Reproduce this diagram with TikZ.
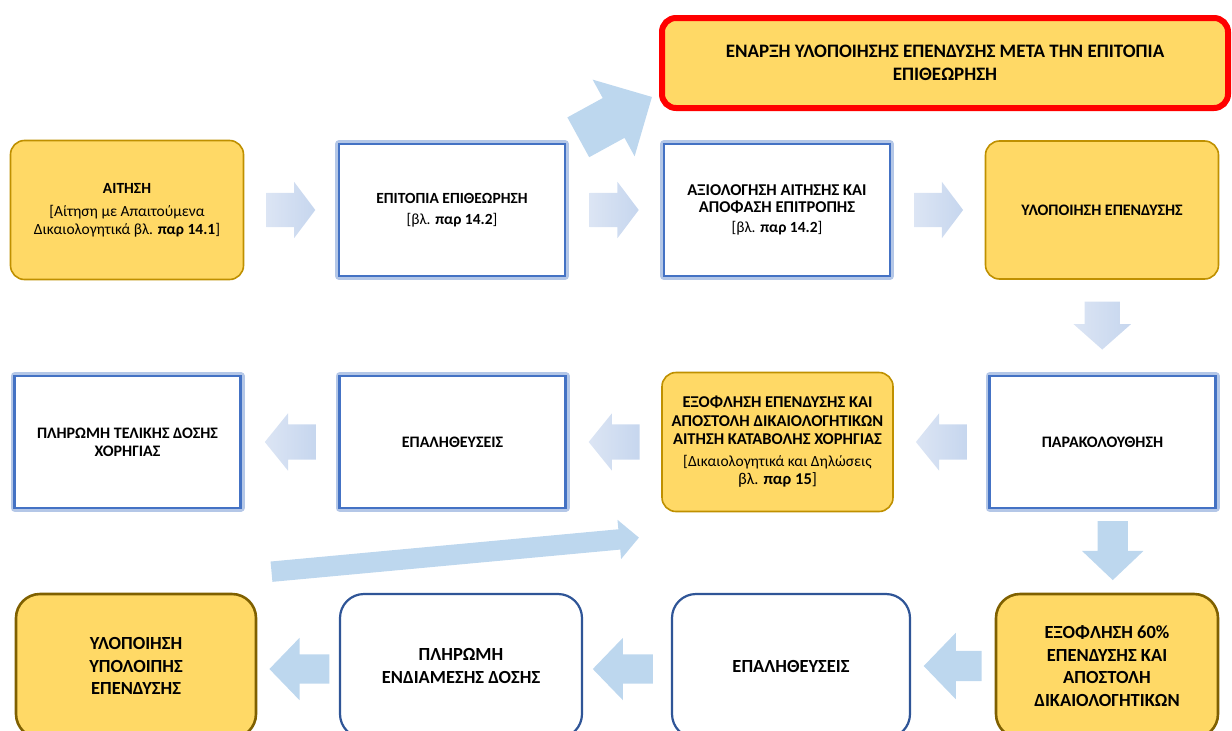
\documentclass[tikz,border=0pt]{standalone}
\usepackage{fontspec}
\setmainfont{Carlito}
\usepackage{tikz}
\usetikzlibrary{shapes.arrows, calc}
\definecolor{gold}{HTML}{FFD966}
\definecolor{goldline}{HTML}{BF9000}
\definecolor{oliveline}{HTML}{7F6000}
\definecolor{boxblue}{HTML}{4472C4}
\definecolor{glowblue}{HTML}{B4C7E7}
\definecolor{darkblue}{HTML}{2F5597}
\definecolor{skyblue}{HTML}{BDD7EE}
\definecolor{paleA}{HTML}{DCE5F4}
\definecolor{paleB}{HTML}{C6D6EE}

\begin{document}
\begin{tikzpicture}[x=1pt, y=-1pt,
                node distance = 325pt,
                Y/.style = {rectangle, rounded corners=14pt, draw=goldline, line width=1.6pt, fill=gold, align=center, font=\fontsize{15.5}{18}\selectfont},
                Y2/.style = {Y, rounded corners=24pt, draw=oliveline, line width=2.6pt, minimum width=240pt, minimum height=144pt, font=\fontsize{18.5}{22.5}\selectfont\bfseries},
                B/.style = {rectangle, draw=boxblue, line width=2.2pt, fill=white, align=center, minimum width=226pt, minimum height=132pt, preaction={draw=glowblue, line width=8pt, line join=round}, font=\fontsize{16}{18}\selectfont\bfseries},
                W/.style = {rectangle, rounded corners=24pt, draw=darkblue, line width=2.2pt, fill=white, align=center, minimum height=144pt, font=\fontsize{18.5}{22.5}\selectfont\bfseries},
                A/.style = {single arrow, anchor=tail, draw=none, inner xsep=0pt, inner ysep=17pt, single arrow head extend=11pt, single arrow tip angle=106, minimum height=49pt, minimum width=56pt, left color=paleA, right color=paleB},
                S/.style = {single arrow, anchor=tail, draw=none, inner xsep=0pt, inner ysep=15pt, fill=skyblue, single arrow head extend=17pt, single arrow tip angle=92, minimum height=59pt, minimum width=63pt}
                    ]
                \clip (0,0) rectangle (1232,731);
                % first row
                \node[Y, minimum width=233pt, minimum height=139pt] (1) at (127,210) {\textbf{ΑΙΤΗΣΗ}\\[5pt] {[}Αίτηση με Απαιτούμενα\\ Δικαιολογητικά βλ. \textbf{παρ 14.1}{]}};
                \node[B, font=\fontsize{15.5}{18}\selectfont\bfseries] (2) [right of=1] {ΕΠΙΤΟΠΙΑ ΕΠΙΘΕΩΡΗΣΗ\\[3pt] \mdseries{[}βλ. \textbf{παρ 14.2}{]}};
                \node[B, font=\fontsize{16.5}{17}\selectfont\bfseries] (3) [right of=2] {ΑΞΙΟΛΟΓΗΣΗ ΑΙΤΗΣΗΣ ΚΑΙ\\ ΑΠΟΦΑΣΗ ΕΠΙΤΡΟΠΗΣ\\[3pt] \mdseries\fontsize{15.5}{17}\selectfont{[}βλ. \textbf{παρ 14.2}{]}};
                \node[Y, minimum width=233pt, minimum height=138pt, font=\fontsize{16}{18}\selectfont\bfseries] (4) [right of=3] {ΥΛΟΠΟΙΗΣΗ ΕΠΕΝΔΥΣΗΣ};
                \node[Y, draw=red, line width=6pt, minimum width=566pt, minimum height=90pt, font=\fontsize{19}{23}\selectfont\bfseries] (0) at (945,63) {ΕΝΑΡΞΗ ΥΛΟΠΟΙΗΣΗΣ ΕΠΕΝΔΥΣΗΣ ΜΕΤΑ ΤΗΝ ΕΠΙΤΟΠΙΑ\\ ΕΠΙΘΕΩΡΗΣΗ};
                % second row
                \node[B] (5) at (1102.5,442) {ΠΑΡΑΚΟΛΟΥΘΗΣΗ};
                \node[Y, minimum width=231pt, minimum height=139pt, font=\fontsize{16.5}{18.5}\selectfont] (10) [left of=5] {\textbf{ΕΞΟΦΛΗΣΗ ΕΠΕΝΔΥΣΗΣ ΚΑΙ}\\ \textbf{ΑΠΟΣΤΟΛΗ ΔΙΚΑΙΟΛΟΓΗΤΙΚΩΝ}\\ \textbf{ΑΙΤΗΣΗ ΚΑΤΑΒΟΛΗΣ ΧΟΡΗΓΙΑΣ}\\[3pt] \fontsize{15.5}{18.5}\selectfont{[}Δικαιολογητικά και Δηλώσεις\\ βλ. \textbf{παρ 15}{]}};
                \node[B] (11) [left of=10] {ΕΠΑΛΗΘΕΥΣΕΙΣ};
                \node[B] (12) [left of=11] {ΠΛΗΡΩΜΗ ΤΕΛΙΚΗΣ ΔΟΣΗΣ\\ ΧΟΡΗΓΙΑΣ};
                % third row
                \node[Y2, minimum width=222pt] (6) at (1107,666) {ΕΞΟΦΛΗΣΗ 60\%\\ ΕΠΕΝΔΥΣΗΣ ΚΑΙ\\ ΑΠΟΣΤΟΛΗ\\ ΔΙΚΑΙΟΛΟΓΗΤΙΚΩΝ};
                \node[W, minimum width=238pt] (7) [left of=6, xshift=9pt] {ΕΠΑΛΗΘΕΥΣΕΙΣ};
                \node[W, minimum width=242pt] (8) [left of=7, xshift=-5pt] {ΠΛΗΡΩΜΗ\\ ΕΝΔΙΑΜΕΣΗΣ ΔΟΣΗΣ};
                \node[Y2] (9) [left of=8] {ΥΛΟΠΟΙΗΣΗ\\ ΥΠΟΛΟΙΠΗΣ\\ ΕΠΕΝΔΥΣΗΣ};
                % arrows (placed by their tails)
                \node[A] (a1) at ($(1.east)!.5!(2.west)-(25,0)$) {};
                \node[A] (a2) at ($(2.east)!.5!(3.west)-(25,0)$) {};
                \node[A] (a3) at ($(3.east)!.5!(4.west)-(24,0)$) {};
                \node[A, rotate=-90, inner ysep=17.5pt, single arrow tip angle=97, minimum height=48pt, minimum width=57pt] (a4) at ($(4.south)!.5!(5.north)+(0,-26)$) {};
                \node[A, rotate=180, inner ysep=17.5pt, single arrow tip angle=102, minimum height=51pt, minimum width=57pt] (a5) at ($(5.west)!.5!(10.east)+(26,0)$) {};
                \node[A, rotate=180, inner ysep=17.5pt, single arrow tip angle=102, minimum height=51pt, minimum width=57pt] (a6) at ($(10.west)!.5!(11.east)+(26,0)$) {};
                \node[A, rotate=180, inner ysep=17.5pt, single arrow tip angle=102, minimum height=51pt, minimum width=57pt] (a7) at ($(11.west)!.5!(12.east)+(26,0)$) {};
                \node[S, rotate=-90, single arrow head extend=15.5pt, single arrow tip angle=93, minimum width=61pt] (a8) at ($(5.south)!.5!(6.north)+(8,-30)$) {};
                \node[S, rotate=180, minimum height=58pt, minimum width=66pt, single arrow head extend=18pt] (a9) at ($(6.west)!.5!(7.east)+(29,0)$) {};
                \node[S, rotate=180, inner ysep=14.5pt, minimum height=60pt, minimum width=62pt, single arrow head extend=16.5pt] (a10) at ($(7.west)!.5!(8.east)+(26,3)$) {};
                \node[S, rotate=180, inner ysep=14.5pt, minimum height=60pt, minimum width=62pt, single arrow head extend=16.5pt] (a11) at ($(8.west)!.5!(9.east)+(31.5,3)$) {};
                \node[S, rotate=28.7, inner ysep=22.5pt, minimum height=84pt, minimum width=87pt, single arrow head extend=21pt, single arrow tip angle=90] (a12) at ($(2.north east)+(12,-5.5)$) {};
                \node[S, rotate=5.3, inner ysep=10pt, minimum height=369pt, minimum width=39pt, single arrow head extend=9.5pt, single arrow tip angle=90] (a13) at ($(9.north east)+(14,-21)$) {};
            \end{tikzpicture}
\end{document}
